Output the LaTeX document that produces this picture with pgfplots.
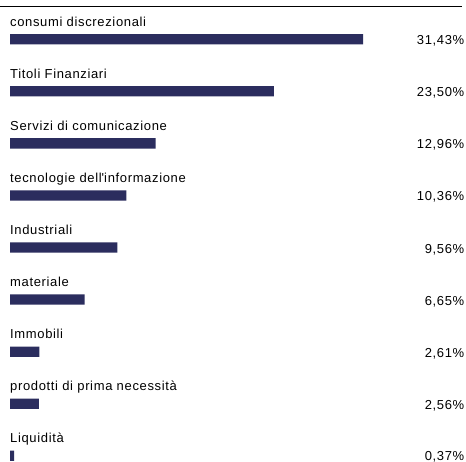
\documentclass[border=0pt]{standalone}
\usepackage{pgfplots}
\pgfplotsset{compat=1.18}
\usepackage{fontspec}
\setmainfont{Liberation Sans}[LetterSpace=5]
\definecolor{barblue}{RGB}{43,45,94}
\begin{document}
\fontsize{13pt}{16pt}\selectfont
\begin{tikzpicture}[x=1pt,y=1pt]
\useasboundingbox (0,0) rectangle (466,462);
\draw[black,line width=1pt] (0,455) -- (462,455);
\begin{axis}[
  at={(10pt,6.2pt)}, anchor=south west,
  scale only axis,
  width=454.5pt, height=416.6pt,
  xmin=0, xmax=40.465,
  ymin=0, ymax=8,
  y dir=reverse,
  clip=false,
  xbar, bar width=10.3pt, bar shift=0pt,
  axis line style={draw=none},
  xtick=\empty,
  ytick={0,...,8},
  major tick length=0pt,
  yticklabels={consumi discrezionali,Titoli Finanziari,Servizi di comunicazione,tecnologie dell\textquotesingle informazione,Industriali,materiale,Immobili,prodotti di prima necessità,Liquidità},
  yticklabel style={anchor=base west, inner sep=0pt, yshift=13.2pt, font=\fontsize{13pt}{16pt}\selectfont},
]
\addplot[fill=barblue, draw=none] coordinates {
 (31.43,0) (23.50,1) (12.96,2) (10.36,3) (9.56,4) (6.65,5) (2.61,6) (2.56,7) (0.37,8)};
\node[anchor=base east, inner sep=0pt, yshift=-5.5pt] at (axis cs:40.465,0) {31,43\%};
\node[anchor=base east, inner sep=0pt, yshift=-5.5pt] at (axis cs:40.465,1) {23,50\%};
\node[anchor=base east, inner sep=0pt, yshift=-5.5pt] at (axis cs:40.465,2) {12,96\%};
\node[anchor=base east, inner sep=0pt, yshift=-5.5pt] at (axis cs:40.465,3) {10,36\%};
\node[anchor=base east, inner sep=0pt, yshift=-5.5pt] at (axis cs:40.465,4) {9,56\%};
\node[anchor=base east, inner sep=0pt, yshift=-5.5pt] at (axis cs:40.465,5) {6,65\%};
\node[anchor=base east, inner sep=0pt, yshift=-5.5pt] at (axis cs:40.465,6) {2,61\%};
\node[anchor=base east, inner sep=0pt, yshift=-5.5pt] at (axis cs:40.465,7) {2,56\%};
\node[anchor=base east, inner sep=0pt, yshift=-4.4pt] at (axis cs:40.465,8) {0,37\%};
\end{axis}
\end{tikzpicture}
\end{document}
